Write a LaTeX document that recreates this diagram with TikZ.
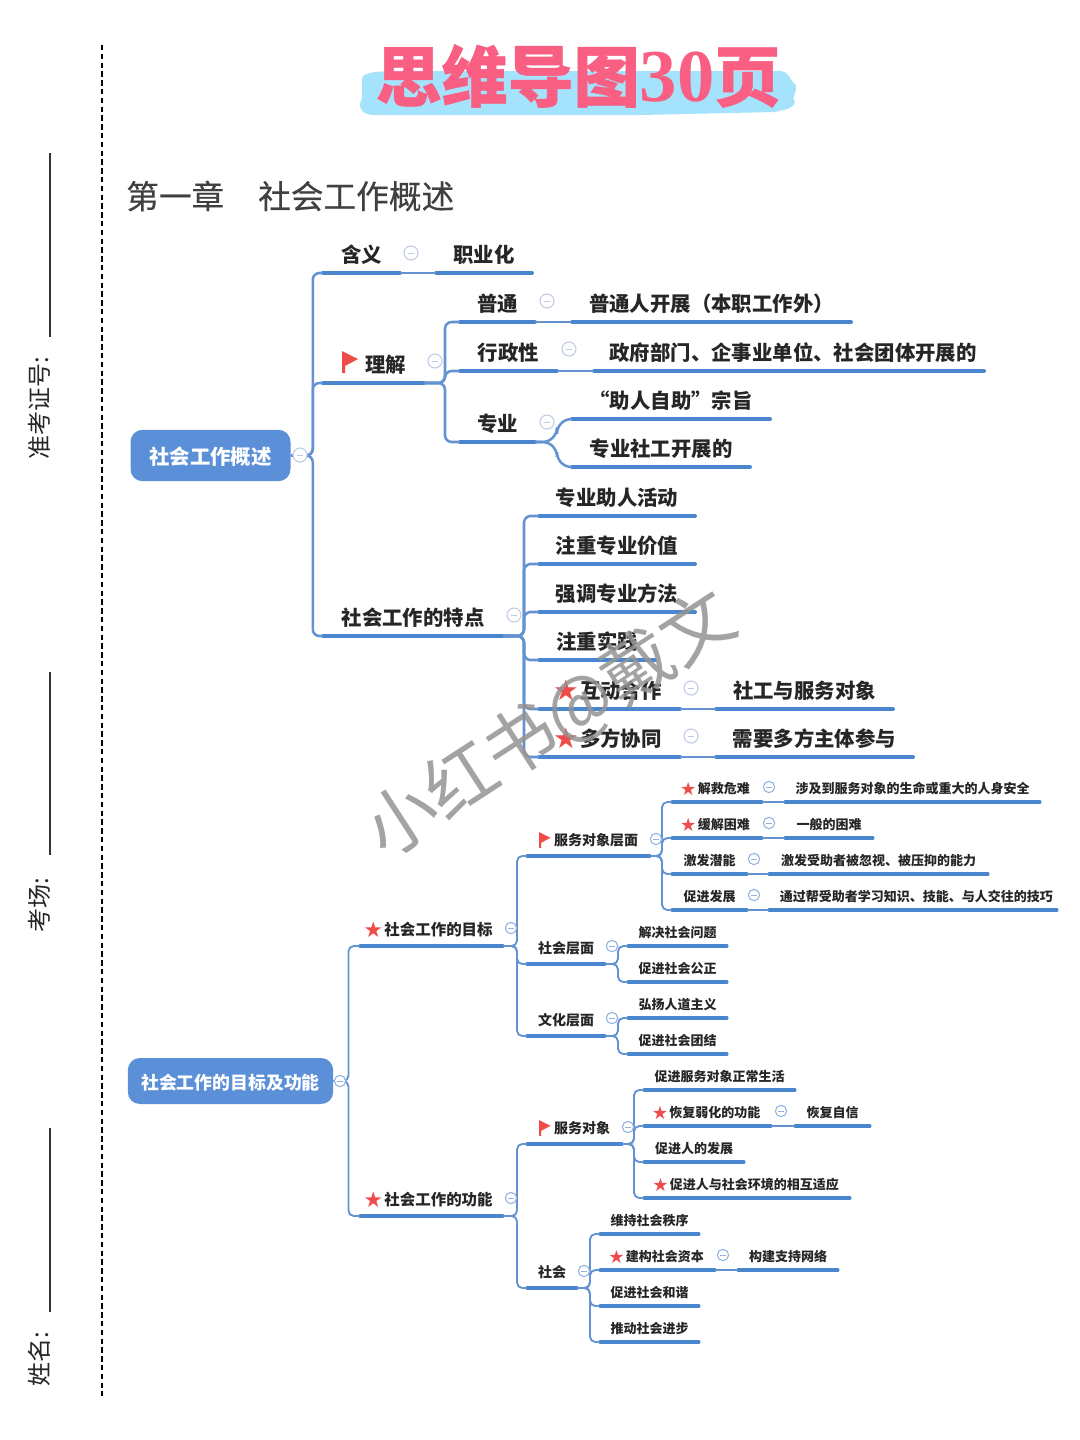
\documentclass[tikz,border=0pt]{standalone}
\usepackage{fontspec}
\newfontfamily\cjkf{Noto Sans CJK SC}
\newfontfamily\djv{DejaVu Sans}
\newfontfamily\numf{Liberation Serif}
\newfontfamily\titlef{Noto Sans CJK SC}[FakeBold=.8]
\newfontfamily\headf{Noto Sans CJK SC}[FakeBold=.35]
\definecolor{lineblue}{HTML}{4A86CE}
\definecolor{thinblue}{HTML}{6393D2}
\definecolor{rootblue}{HTML}{5B90D8}
\definecolor{starred}{HTML}{EE4B4B}
\definecolor{txt}{HTML}{262626}
\definecolor{titlepink}{HTML}{F95F82}
\definecolor{brush}{HTML}{A5E2FC}
\definecolor{colring}{HTML}{BFCBE3}
\newcommand{\rstar}{\raisebox{-.13em}{\scalebox{1.4}{\color{starred}\djv★}}\hspace{1pt}}
\tikzset{
  topic/.style={inner sep=0pt,outer sep=0pt,anchor=south west,align=center,text=txt},
  la/.style={font=\cjkf\bfseries\fontsize{15.3}{16}\selectfont,minimum height=27pt,text height=13pt,text depth=2pt},
  lb/.style={font=\cjkf\bfseries\fontsize{11.6}{12}\selectfont,minimum height=24pt,text height=10pt,text depth=1.6pt},
  lc/.style={font=\cjkf\bfseries\fontsize{10.5}{11}\selectfont,minimum height=23pt,text height=9pt,text depth=1.5pt},
  ld/.style={font=\cjkf\bfseries\fontsize{9.75}{10}\selectfont,minimum height=20pt,text height=8.4pt,text depth=1.35pt},
  ul-la/.style={line width=3pt},
  ul-lb/.style={line width=2.6pt},
  ul-lc/.style={line width=2.4pt},
  ul-ld/.style={line width=2.3pt},
  heavy/.style={draw=lineblue,line cap=round},
  conn/.style={draw=thinblue,line width=1.9pt,rounded corners=5pt},
  connb/.style={draw=thinblue,line width=1.9pt,rounded corners=11pt},
  connc/.style={draw=thinblue,line width=1.4pt,rounded corners=4pt},
  rootbox/.style={fill=rootblue,rounded corners=9pt,text=white,inner sep=0pt,align=center},
  col/.style={circle,fill=white,draw=colring,line width=.8pt,inner sep=0pt,minimum size=10.5pt,
    path picture={\draw[colring,line width=.7pt] ([xshift=-2.5pt]path picture bounding box.center)--([xshift=2.5pt]path picture bounding box.center);}},
  cols/.style={circle,fill=white,draw=thinblue!70,line width=.8pt,inner sep=0pt,minimum size=8.5pt,
    path picture={\draw[thinblue!70,line width=.6pt] ([xshift=-2pt]path picture bounding box.center)--([xshift=2pt]path picture bounding box.center);}},
  side/.style={font=\cjkf\fontsize{18}{18}\selectfont,rotate=90,text=txt,inner sep=0pt},
  siderule/.style={draw=black!80,line width=.9pt},
}
% \topic{level}{name}{x0}{x1}{y}{text}
\newcommand{\topic}[6]{%
  \node[topic,#1,minimum width={(#4-#3)*.75pt}] (#2) at (#3,#5) {#6};
  \draw[heavy,ul-#1] (#2.south west) -- (#2.south east);}
% \branch{style}{start}{dx}{children}
\newcommand{\branch}[4]{%
  \foreach \c in {#4} {\draw[#1] (#2) -- ++(#3,0) |- (\c.south west);}}
\newcommand{\link}[3]{\draw[#1] (#2.south east) -- (#3.south west);}
% \flagmark{node}{dx}{dy}{scale}
\newcommand{\flagmark}[4]{\fill[starred,shift={(#1.south west)},xshift=#2*.75pt,yshift=#3*.75pt,scale=#4]
  (0,0) -- (16,8) -- (3,15) -- (3,22) -- (0,22) -- cycle;}
\begin{document}
\begin{tikzpicture}[x=.75pt,y=-.75pt]
\useasboundingbox (0,0) rectangle (1080,1440);
\fill[white] (0,0) rectangle (1080,1440);
% side
\draw[black,line width=1.1pt,dash pattern=on 4pt off 2.6pt] (102,45) -- (102,1396);
\draw[siderule] (50,153) -- (50,337);
\draw[siderule] (50,672) -- (50,855);
\draw[siderule] (50,1128) -- (50,1312);
\node[side] (s1) at (39,408) {准考证号:};
\node[side] (s2) at (39,905) {考场:};
\node[side] (s3) at (39,1359) {姓名:};
% title
\fill[brush] (363,76) .. controls (372,70) and (385,72) .. (400,71) -- (780,71) .. controls (790,72) and (788,78) .. (795,84)
  .. controls (799,92) and (790,96) .. (795,102) .. controls (792,110) and (785,109) .. (775,112)
  -- (640,115) -- (375,115) .. controls (362,115) and (358,108) .. (361,101) .. controls (364,94) and (360,84) .. (363,76) -- cycle;
\node[inner sep=0pt,text=titlepink,anchor=center] (title) at (578,76) {\titlef\bfseries\fontsize{49.5}{50}\selectfont 思维导图{\numf\fontsize{56}{56}\selectfont 30}页};
% heading
\node[inner sep=0pt,anchor=west,text=black!75] (head) at (126,196) {\headf\fontsize{24.5}{25}\selectfont 第一章\hspace{25.5pt}社会工作概述};
% ---------- first map ----------
\node[rootbox,minimum width=120pt,minimum height=38.5pt,text height=14.5pt,text depth=1pt,font=\cjkf\bfseries\fontsize{15.3}{16}\selectfont] (rootA) at (210.5,455.5) {社会工作概述};
\topic{la}{a1}{323}{400}{273}{含义}
\topic{la}{a1x}{436}{532}{273}{职业化}
\topic{la}{a2}{323}{424}{383}{\hspace{18pt}理解}
\topic{la}{a3}{323}{503}{636}{社会工作的特点}
\topic{la}{b1}{460}{535}{322}{普通}
\topic{la}{b1x}{572}{851}{322}{普通人开展（本职工作外）}
\topic{la}{b2}{460}{557}{371}{行政性}
\topic{la}{b2x}{594}{984}{371}{\hspace{6pt}政府部门、企事业单位、社会团体开展的}
\topic{la}{b3}{460}{535}{442}{专业}
\topic{la}{c1}{572}{770}{419}{“助人自助”宗旨}
\topic{la}{c2}{572}{750}{467}{专业社工开展的}
\topic{la}{d1}{539}{695}{516}{专业助人活动}
\topic{la}{d2}{539}{695}{564}{注重专业价值}
\topic{la}{d3}{539}{695}{612}{强调专业方法}
\topic{la}{d4}{539}{655}{660}{注重实践}
\topic{la}{d5}{539}{680}{709}{\rstar 互动合作\hspace{3pt}}
\topic{la}{d5x}{716}{893}{709}{社工与服务对象}
\topic{la}{d6}{539}{680}{757}{\rstar 多方协同\hspace{3pt}}
\topic{la}{d6x}{716}{913}{757}{需要多方主体参与}
\flagmark{a2}{19}{32}{1}
\branch{conn}{rootA.east}{22}{a1,a2,a3}
\link{conn}{a1}{a1x}
\branch{conn}{a2.south east}{21}{b1,b2,b3}
\link{conn}{b1}{b1x}
\link{conn}{b2}{b2x}
\branch{connb}{b3.south east}{22}{c1,c2}
\branch{conn}{a3.south east}{21}{d1,d2,d3,d4,d5,d6}
\link{conn}{d5}{d5x}
\link{conn}{d6}{d6x}
\node[col] (ca) at (300,455) {};
\node[col] (c1) at (411,253) {};
\node[col] (c2) at (435,361) {};
\node[col] (c3) at (514,615) {};
\node[col] (c4) at (547,301) {};
\node[col] (c5) at (569,349) {};
\node[col] (c6) at (547,422) {};
\node[col] (c7) at (691,688) {};
\node[col] (c8) at (691,736) {};
% ---------- second map ----------
\node[rootbox,minimum width=154pt,minimum height=34.5pt,text height=12.9pt,text depth=.9pt,font=\cjkf\bfseries\fontsize{13.4}{14}\selectfont] (rootB) at (230.5,1081) {社会工作的目标及功能};
\topic{lb}{e1}{360}{503}{946}{\rstar 社会工作的目标\hspace{5pt}}
\topic{lb}{e2}{360}{503}{1216}{\rstar 社会工作的功能\hspace{5pt}}
\topic{lc}{f1}{527}{650}{856}{\hspace{11.25pt}服务对象层面}
\topic{lc}{f2}{527}{605}{964}{社会层面}
\topic{lc}{f3}{527}{605}{1036}{文化层面}
\topic{ld}{g1}{672}{762}{802}{\rstar 解救危难\hspace{3pt}}
\topic{ld}{g1x}{785}{1040}{802}{涉及到服务对象的生命或重大的人身安全}
\topic{ld}{g2}{672}{762}{838}{\rstar 缓解困难\hspace{3pt}}
\topic{ld}{g2x}{785}{873}{838}{一般的困难}
\topic{ld}{g3}{672}{747}{874}{激发潜能}
\topic{ld}{g3x}{769}{988}{874}{激发受助者被忽视、被压抑的能力}
\topic{ld}{g4}{672}{747}{910}{促进发展}
\topic{ld}{g4x}{769}{1057}{910}{\hspace{5pt}通过帮受助者学习知识、技能、与人交往的技巧}
\topic{ld}{h1}{628}{727}{946}{解决社会问题}
\topic{ld}{h2}{628}{727}{982}{促进社会公正}
\topic{ld}{i1}{628}{727}{1018}{弘扬人道主义}
\topic{ld}{i2}{628}{727}{1054}{促进社会团结}
\topic{lc}{f4}{527}{622}{1144}{\hspace{11.25pt}服务对象}
\topic{lc}{f5}{527}{577}{1288}{社会}
\topic{ld}{j1}{644}{795}{1090}{促进服务对象正常生活}
\topic{ld}{j2}{644}{771}{1126}{\rstar 恢复弱化的功能\hspace{2pt}}
\topic{ld}{j2x}{795}{870}{1126}{恢复自信}
\topic{ld}{j3}{644}{744}{1162}{促进人的发展}
\topic{ld}{j4}{644}{850}{1198}{\rstar 促进人与社会环境的相互适应\hspace{2pt}}
\topic{ld}{k1}{600}{699}{1234}{维持社会秩序}
\topic{ld}{k2}{600}{715}{1270}{\rstar 建构社会资本\hspace{2pt}}
\topic{ld}{k2x}{738}{838}{1270}{构建支持网络}
\topic{ld}{k3}{600}{699}{1306}{促进社会和谐}
\topic{ld}{k4}{600}{699}{1342}{推动社会进步}
\flagmark{f1}{12}{24}{.72}
\flagmark{f4}{12}{24}{.72}
\branch{connc}{rootB.east}{15}{e1,e2}
\branch{connc}{e1.south east}{14}{f1,f2,f3}
\branch{connc}{e2.south east}{14}{f4,f5}
\branch{connc}{f1.south east}{12}{g1,g2,g3,g4}
\link{connc}{g1}{g1x}
\link{connc}{g2}{g2x}
\link{connc}{g3}{g3x}
\link{connc}{g4}{g4x}
\branch{connc}{f2.south east}{13}{h1,h2}
\branch{connc}{f3.south east}{13}{i1,i2}
\branch{connc}{f4.south east}{12}{j1,j2,j3,j4}
\link{connc}{j2}{j2x}
\branch{connc}{f5.south east}{13}{k1,k2,k3,k4}
\link{connc}{k2}{k2x}
\node[cols] (n0) at (340,1081) {};
\node[cols] (n1) at (511,928) {};
\node[cols] (n2) at (511,1198) {};
\node[cols] (n3) at (656,839) {};
\node[cols] (n4) at (612,946) {};
\node[cols] (n5) at (612,1018) {};
\node[cols] (n6) at (769,787) {};
\node[cols] (n7) at (769,823) {};
\node[cols] (n8) at (754,859) {};
\node[cols] (n9) at (754,895) {};
\node[cols] (n10) at (628,1127) {};
\node[cols] (n11) at (584,1271) {};
\node[cols] (n12) at (781,1111) {};
\node[cols] (n13) at (723,1255) {};
% watermark
\node[rotate=33,inner sep=0pt,text=black!42,opacity=.85,font=\cjkf\fontsize{53.5}{54}\selectfont] (wm) at (550,725) {小红书@戴文};
\end{tikzpicture}
\end{document}
